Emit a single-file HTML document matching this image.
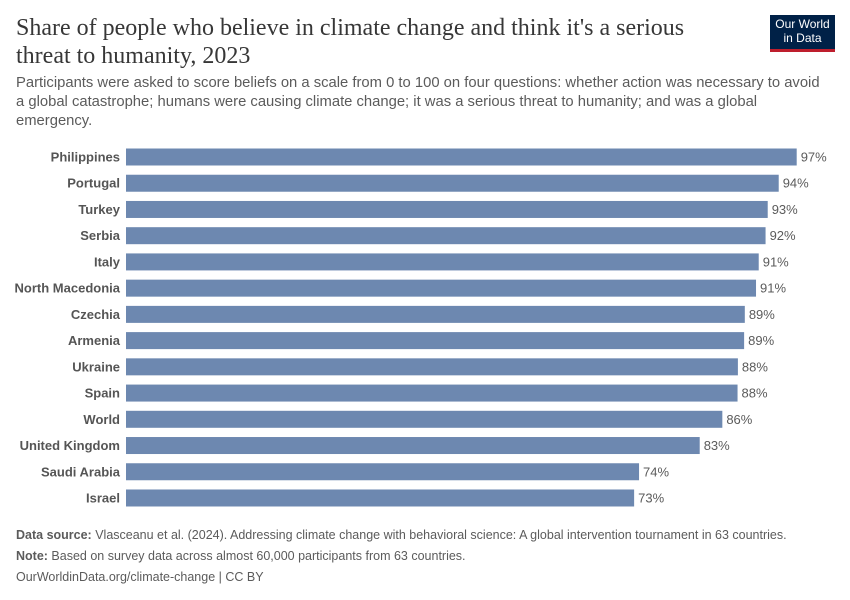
<!DOCTYPE html>
<html><head><meta charset="utf-8"><style>
body{margin:0;background:#fff;width:850px;height:600px;overflow:hidden;font-family:"Liberation Sans",sans-serif;position:relative}
.t{position:absolute;left:16px;top:14px;font-family:"Liberation Serif",serif;font-size:24px;line-height:28px;color:#373737;width:690px}
.s{position:absolute;left:16px;top:74px;font-size:14.8px;line-height:19px;color:#5b5b5b;width:830px;white-space:nowrap}
.logo{position:absolute;left:770px;top:15px;width:65px;height:37px;background:#002147;border-bottom:3px solid #be1e2d;color:#fff;font-size:12px;line-height:14px;text-align:center;padding-top:2px;box-sizing:border-box}
.f{position:absolute;left:16px;font-size:12.5px;color:#5b5b5b}
</style></head><body>
<div class="t">Share of people who believe in climate change and think it's a serious threat to humanity, 2023</div>
<div class="logo">Our World<br>in Data</div>
<div class="s">Participants were asked to score beliefs on a scale from 0 to 100 on four questions: whether action was necessary to avoid<br>a global catastrophe; humans were causing climate change; it was a serious threat to humanity; and was a global<br>emergency.</div>
<svg id="chart" width="850" height="600" style="position:absolute;left:0;top:0"></svg>
<div class="f" style="top:528px"><b>Data source:</b> Vlasceanu et al. (2024). Addressing climate change with behavioral science: A global intervention tournament in 63 countries.</div>
<div class="f" style="top:549px"><b>Note:</b> Based on survey data across almost 60,000 participants from 63 countries.</div>
<div class="f" style="top:570px">OurWorldinData.org/climate-change | CC BY</div>
<script>
const categories=["Philippines","Portugal","Turkey","Serbia","Italy","North Macedonia","Czechia","Armenia","Ukraine","Spain","World","United Kingdom","Saudi Arabia","Israel"];
const values=[96.95,94.35,92.76,92.45,91.46,91.07,89.45,89.35,88.45,88.4,86.2,82.93,74.16,73.45];
const ns="http://www.w3.org/2000/svg";
const svg=document.getElementById("chart");
const x0=126,pxPer=6.918,y0=157,pitch=26.23,bh=17;
const xs=v=>x0+v*pxPer;
const ys=i=>y0+i*pitch;
categories.forEach((c,i)=>{
  const r=document.createElementNS(ns,"rect");
  r.setAttribute("x",x0);r.setAttribute("y",ys(i)-bh/2);
  r.setAttribute("width",xs(values[i])-x0);r.setAttribute("height",bh);
  r.setAttribute("fill","#6d88b0");
  
  
  svg.appendChild(r);
  const l=document.createElementNS(ns,"text");
  l.setAttribute("x",120);l.setAttribute("y",ys(i)+4.5);l.setAttribute("text-anchor","end");
  l.setAttribute("font-size","13");l.setAttribute("font-weight","bold");l.setAttribute("fill","#555");
  l.setAttribute("font-family","Liberation Sans, sans-serif");
  l.textContent=c;
  
  
  svg.appendChild(l);
  const v=document.createElementNS(ns,"text");
  v.setAttribute("x",xs(values[i])+4);v.setAttribute("y",ys(i)+4.5);
  v.setAttribute("font-size","13");v.setAttribute("fill","#5b5b5b");
  v.setAttribute("font-family","Liberation Sans, sans-serif");
  v.textContent=Math.round(values[i])+"%";
  
  
  svg.appendChild(v);
});
</script>
</body></html>
